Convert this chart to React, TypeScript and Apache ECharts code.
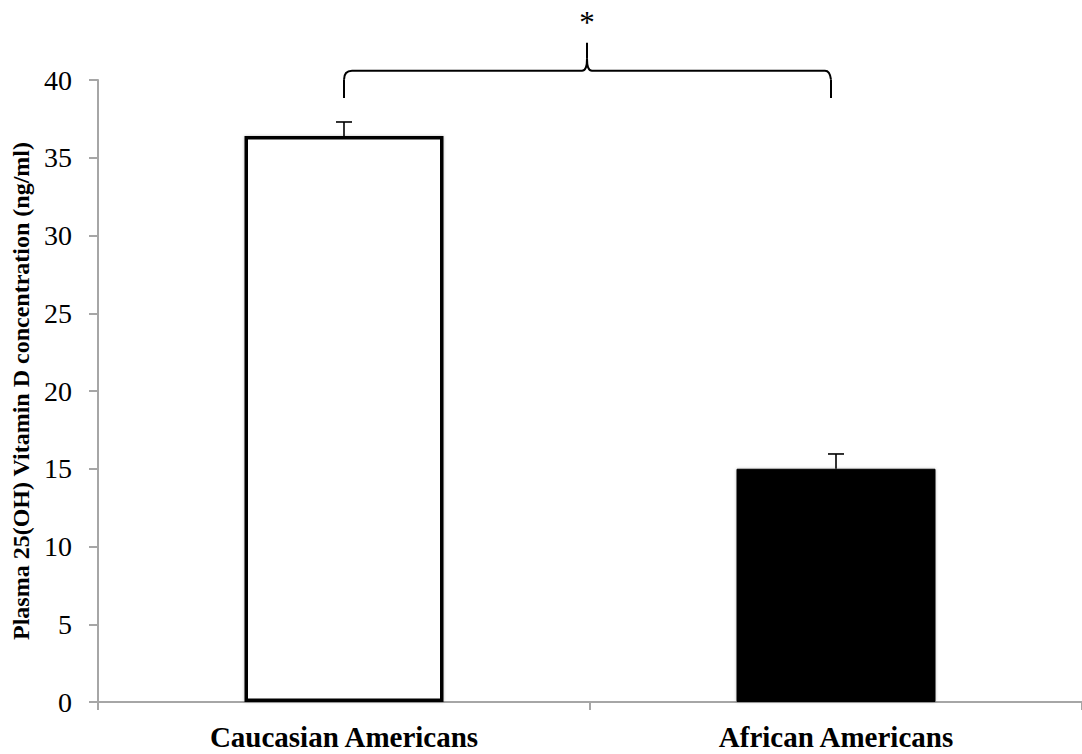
import React, { useEffect, useRef } from "react";
import * as echarts from "echarts";

const categories = ["Caucasian Americans", "African Americans"];
const means = [36.4, 15.0];
const errors = [0.9, 0.95];
const yMin = 0;
const yMax = 40;
const yInterval = 5;
const barFills = ["#ffffff", "#000000"];
const significanceMark = "*";

const SERIF = "'Times New Roman', 'Liberation Serif', 'DejaVu Serif', serif";

export default function App() {
  const ref = useRef<HTMLDivElement>(null);

  useEffect(() => {
    if (!ref.current) return;
    const chart = echarts.init(ref.current, undefined, { renderer: "svg" });

    const option: any = {
      animation: false,
      backgroundColor: "#ffffff",
      grid: { left: 98, top: 80, width: 993, height: 622, containLabel: false },
      xAxis: {
        type: "category",
        data: categories,
        boundaryGap: true,
        axisLine: { lineStyle: { color: "#a6a6a6", width: 2 } },
        axisTick: { show: true, length: 8, alignWithLabel: false, lineStyle: { color: "#a6a6a6", width: 2 } },
        axisLabel: {
          color: "#000",
          fontFamily: SERIF,
          fontWeight: "bold",
          fontSize: 29,
          margin: 20,
        },
        splitLine: { show: false },
      },
      yAxis: {
        type: "value",
        min: yMin,
        max: yMax,
        interval: yInterval,
        name: "Plasma 25(OH) Vitamin D concentration (ng/ml)",
        nameLocation: "middle",
        nameGap: 64,
        nameTextStyle: {
          color: "#000",
          fontFamily: SERIF,
          fontWeight: "bold",
          fontSize: 24,
        },
        axisLine: { show: true, lineStyle: { color: "#a6a6a6", width: 2 } },
        axisTick: { show: true, length: 9, lineStyle: { color: "#a6a6a6", width: 2 } },
        axisLabel: { color: "#000", fontFamily: SERIF, fontSize: 28, margin: 26 },
        splitLine: { show: false },
      },
      series: [
        {
          type: "bar",
          barWidth: 199,
          data: means.map((v, i) => ({
            value: v,
            itemStyle: {
              color: barFills[i],
              borderColor: "#000",
              borderWidth: i === 0 ? 3.5 : 1,
              shadowBlur: 3,
              shadowColor: "rgba(0,0,0,0.25)",
            },
          })),
          z: 2,
        },
        {
          type: "custom",
          z: 3,
          data: categories.map((c, i) => [i, means[i], errors[i]]),
          renderItem: (params: any, api: any) => {
            const base = api.coord([api.value(0), api.value(1)]);
            const top = api.coord([api.value(0), api.value(1) + api.value(2)]);
            const half = 8;
            return {
              type: "group",
              children: [
                {
                  type: "line",
                  shape: { x1: base[0], y1: base[1], x2: base[0], y2: top[1] },
                  style: { stroke: "#000", lineWidth: 1.6 },
                },
                {
                  type: "line",
                  shape: { x1: base[0] - half, y1: top[1], x2: base[0] + half, y2: top[1] },
                  style: { stroke: "#000", lineWidth: 1.6 },
                },
              ],
            };
          },
        },
      ],
    };

    chart.setOption(option);

    // Significance bracket positioned through the chart's own scales
    const bracketBase = 38.85;
    const bracketLevel = 40.6;
    const bracketPeak = 42.4;
    const starLevel = 43.7;
    const left = chart.convertToPixel({ xAxisIndex: 0 }, categories[0]) as number;
    const right = (chart.convertToPixel({ xAxisIndex: 0 }, categories[1]) as number) - 6;
    const mid = (left + right) / 2;
    const yb = chart.convertToPixel({ yAxisIndex: 0 }, bracketBase) as number;
    const yh = chart.convertToPixel({ yAxisIndex: 0 }, bracketLevel) as number;
    const yp = chart.convertToPixel({ yAxisIndex: 0 }, bracketPeak) as number;
    const ys = chart.convertToPixel({ yAxisIndex: 0 }, starLevel) as number;
    const st = { stroke: "#000", lineWidth: 2, fill: "none" };

    chart.setOption({
      graphic: [
        { type: "line", shape: { x1: left, y1: yb, x2: left, y2: yh + 9 }, style: st },
        { type: "bezierCurve", shape: { x1: left, y1: yh + 9, cpx1: left, cpy1: yh, x2: left + 8, y2: yh }, style: st },
        { type: "line", shape: { x1: left + 8, y1: yh, x2: mid - 5, y2: yh }, style: st },
        { type: "bezierCurve", shape: { x1: mid - 5, y1: yh, cpx1: mid, cpy1: yh, x2: mid, y2: yh - 12 }, style: st },
        { type: "line", shape: { x1: mid, y1: yh - 12, x2: mid, y2: yp }, style: st },
        { type: "bezierCurve", shape: { x1: mid + 5, y1: yh, cpx1: mid, cpy1: yh, x2: mid, y2: yh - 12 }, style: st },
        { type: "line", shape: { x1: mid + 5, y1: yh, x2: right - 5, y2: yh }, style: st },
        { type: "bezierCurve", shape: { x1: right - 5, y1: yh, cpx1: right, cpy1: yh, x2: right + 1, y2: yh + 9 }, style: st },
        { type: "line", shape: { x1: right + 1, y1: yh + 9, x2: right + 1, y2: yb }, style: st },
        {
          type: "text",
          x: mid,
          y: ys,
          style: {
            text: significanceMark,
            fill: "#000",
            fontFamily: SERIF,
            fontSize: 31,
            align: "center",
            verticalAlign: "middle",
          },
        },
      ],
    });

    return () => chart.dispose();
  }, []);

  return (
    <div
      ref={ref}
      style={{ position: "fixed", left: 0, top: 0, width: 1082, height: 754 }}
    />
  );
}
